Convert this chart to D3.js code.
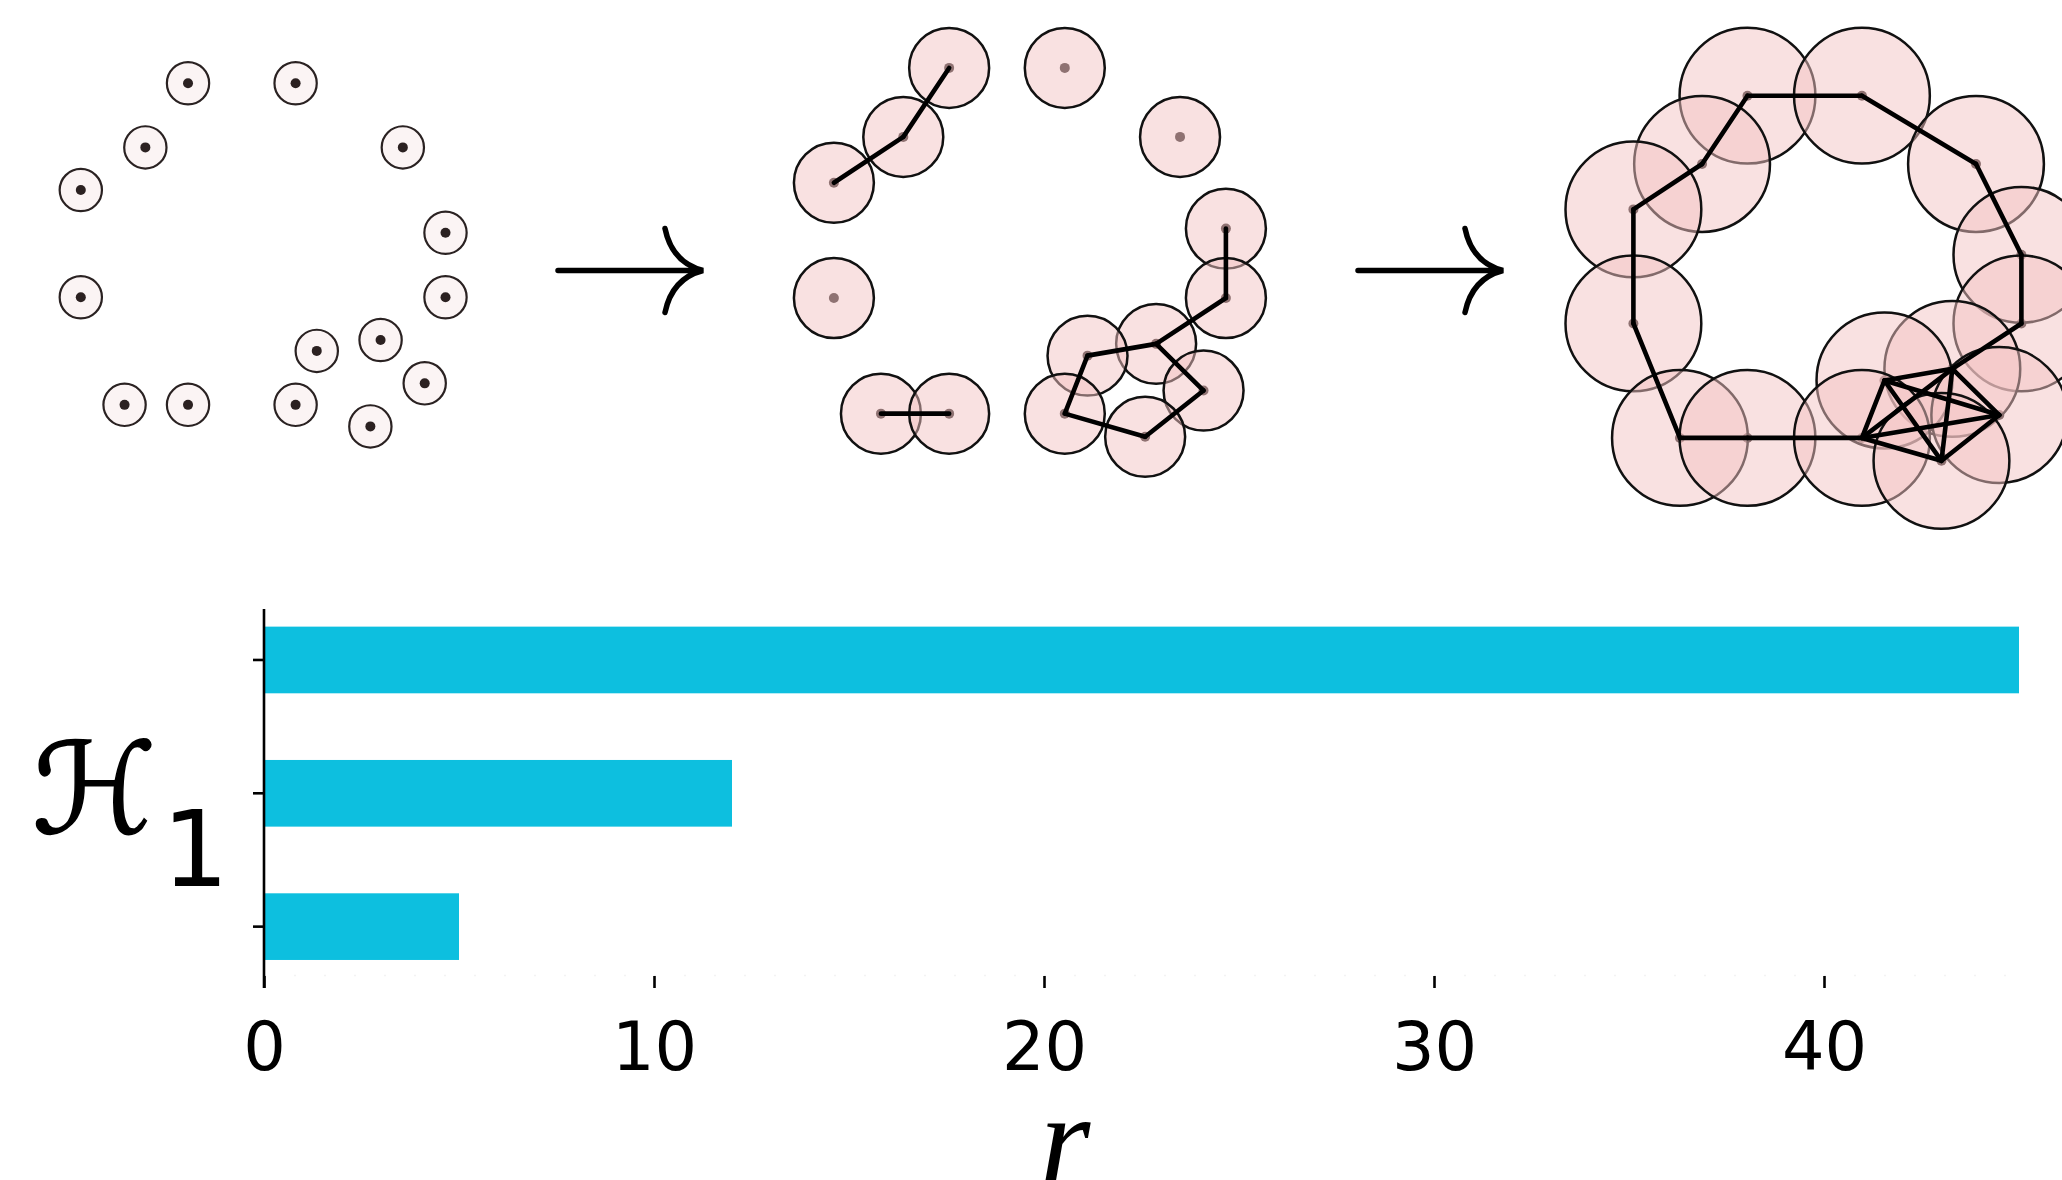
<!DOCTYPE html>
<html>
<head>
<meta charset="utf-8">
<script src="https://cdn.jsdelivr.net/npm/d3@7"></script>
<style>
  body { margin: 0; background: #fff; }
  svg { display: block; }
</style>
</head>
<body>
<svg id="chart" width="2062" height="1180"></svg>
<script>
// point cloud, the same in all three stages
const pointX = [2.94, 5.89, 1.77, 8.83, 0, 10, 0, 10, 8.22, 6.47, 9.43, 1.20, 2.94, 5.89, 7.94];
const pointY = [0, 0, 1.76, 1.76, 2.93, 4.10, 5.87, 5.87, 7.04, 7.34, 8.23, 8.82, 8.82, 8.82, 9.41];

// ball radius used at each stage of the filtration
const stageRadius = [0.58, 1.02, 1.75];

// edges drawn at each stage (index pairs into the point cloud)
const stageEdges = [
    [],
    [[0, 2], [2, 4], [11, 12], [5, 7], [7, 8], [8, 9], [8, 10], [10, 14], [14, 13], [13, 9]],
    [[0, 1], [1, 3], [3, 5], [5, 7], [7, 8], [0, 2], [2, 4], [4, 6], [6, 11], [11, 12], [12, 13],
     [8, 9], [8, 10], [8, 13], [8, 14], [9, 10], [9, 13], [9, 14], [10, 13], [10, 14], [13, 14]]
];

// H1 barcode
const barIds = ["h1_a", "h1_b", "h1_c"];
const barLengths = [45, 12, 5];
const xTicks = [0, 10, 20, 30, 40];

const svg = d3.select("#chart");

/** panel placement: pixel of data origin and pixels per unit */
const panels = [
    {x0: 80.8, y0: 83.2, k: 36.47},
    {x0: 833.9, y0: 67.9, k: 39.2},
    {x0: 1633.4, y0: 95.7, k: 38.8}
];

const pts = pointX.map((x, i) => ({x: x, y: pointY[i]}));

panels.forEach((p, s) => {
    let xs = d3.scaleLinear().domain([0, 10]).range([p.x0, p.x0 + 10 * p.k]);
    let ys = d3.scaleLinear().domain([0, 10]).range([p.y0, p.y0 + 10 * p.k]);
    let rPx = xs(stageRadius[s]) - xs(0);
    let g = svg.append("g").attr("class", "stage" + s);

    if (s === 0) {
        g.selectAll("circle.ball").data(pts).enter().append("circle")
            .attr("class", "ball")
            .attr("cx", d => xs(d.x)).attr("cy", d => ys(d.y)).attr("r", rPx)
            .attr("fill", "#fbf4f4")
            .attr("stroke", "#2a2222").attr("stroke-width", 2.2);
        g.selectAll("circle.dot").data(pts).enter().append("circle")
            .attr("class", "dot")
            .attr("cx", d => xs(d.x)).attr("cy", d => ys(d.y)).attr("r", 5)
            .attr("fill", "#2b2121");
        return;
    }

    // centres first, so the translucent balls tint them
    g.selectAll("circle.dot").data(pts).enter().append("circle")
        .attr("class", "dot")
        .attr("cx", d => xs(d.x)).attr("cy", d => ys(d.y)).attr("r", 5)
        .attr("fill", "#2b2121");

    pts.forEach(d => {
        g.append("circle")
            .attr("cx", xs(d.x)).attr("cy", ys(d.y)).attr("r", rPx)
            .attr("fill", "#f3c3c3").attr("fill-opacity", 0.5)
            .attr("stroke", "#111").attr("stroke-width", 2.5);
    });

    g.selectAll("line.edge").data(stageEdges[s]).enter().append("line")
        .attr("class", "edge")
        .attr("x1", e => xs(pts[e[0]].x)).attr("y1", e => ys(pts[e[0]].y))
        .attr("x2", e => xs(pts[e[1]].x)).attr("y2", e => ys(pts[e[1]].y))
        .attr("stroke", "#000").attr("stroke-width", 4.6)
        .attr("stroke-linecap", "round");
});

// long arrows between the stages
const arrowY = 270.5;
[558, 1358].forEach(ax => {
    let tip = ax + 145;
    let path = d3.path();
    path.moveTo(ax, arrowY);
    path.lineTo(tip - 2, arrowY);
    path.moveTo(tip - 38, arrowY - 42);
    path.quadraticCurveTo(tip - 31, arrowY - 8, tip, arrowY);
    path.quadraticCurveTo(tip - 31, arrowY + 8, tip - 38, arrowY + 42);
    svg.append("path").attr("d", path.toString())
        .attr("fill", "none").attr("stroke", "#000")
        .attr("stroke-width", 5.5).attr("stroke-linecap", "round");
});

// ---- barcode ----
const x = d3.scaleLinear().domain([0, 45]).range([264, 2019]);
const y = d3.scaleBand().domain(barIds).range([593.3, 993.3])
    .paddingInner(0.5).paddingOuter(0.25);

svg.selectAll("rect.bar").data(barIds).enter().append("rect")
    .attr("class", "bar")
    .attr("x", x(0))
    .attr("y", d => y(d))
    .attr("width", (d, i) => x(barLengths[i]) - x(0))
    .attr("height", y.bandwidth())
    .attr("fill", "#0dbfdf");

// barely visible bottom spine
svg.append("line")
    .attr("x1", 264).attr("x2", 2019).attr("y1", 975.5).attr("y2", 975.5)
    .attr("stroke", "#f3f3f3").attr("stroke-width", 1.5)
    .attr("stroke-dasharray", "2,28");

// left spine
svg.append("line")
    .attr("x1", 264).attr("x2", 264).attr("y1", 609).attr("y2", 988)
    .attr("stroke", "#000").attr("stroke-width", 2.6);

const yAxis = svg.append("g").attr("transform", "translate(264,0)")
    .call(d3.axisLeft(y).tickSize(11).tickFormat(""));
yAxis.select(".domain").remove();
yAxis.selectAll(".tick line").attr("stroke", "#000").attr("stroke-width", 2.6);

const xAxis = svg.append("g").attr("transform", "translate(0,976)")
    .call(d3.axisBottom(x).tickValues(xTicks).tickSize(12).tickPadding(34));
xAxis.select(".domain").remove();
xAxis.selectAll(".tick line").attr("stroke", "#000").attr("stroke-width", 2.6);
xAxis.selectAll(".tick text")
    .attr("fill", "#000")
    .style("font-family", "'DejaVu Sans'")
    .style("font-size", "67px");

// axis labels
svg.append("text")
    .attr("x", 32).attr("y", 833)
    .style("font-family", "'DejaVu Sans', sans-serif")
    .style("font-style", "italic")
    .style("font-size", "126px")
    .attr("stroke", "#000").attr("stroke-width", 1.5)
    .text("ℋ");
svg.append("text")
    .attr("x", 162).attr("y", 886)
    .style("font-family", "'DejaVu Sans'")
    .style("font-size", "105px")
    .text("1");
svg.append("text")
    .attr("x", 1065).attr("y", 1183)
    .attr("text-anchor", "middle")
    .style("font-family", "'Liberation Serif', serif")
    .style("font-style", "italic")
    .style("font-size", "130px")
    .text("r");
</script>
</body>
</html>
